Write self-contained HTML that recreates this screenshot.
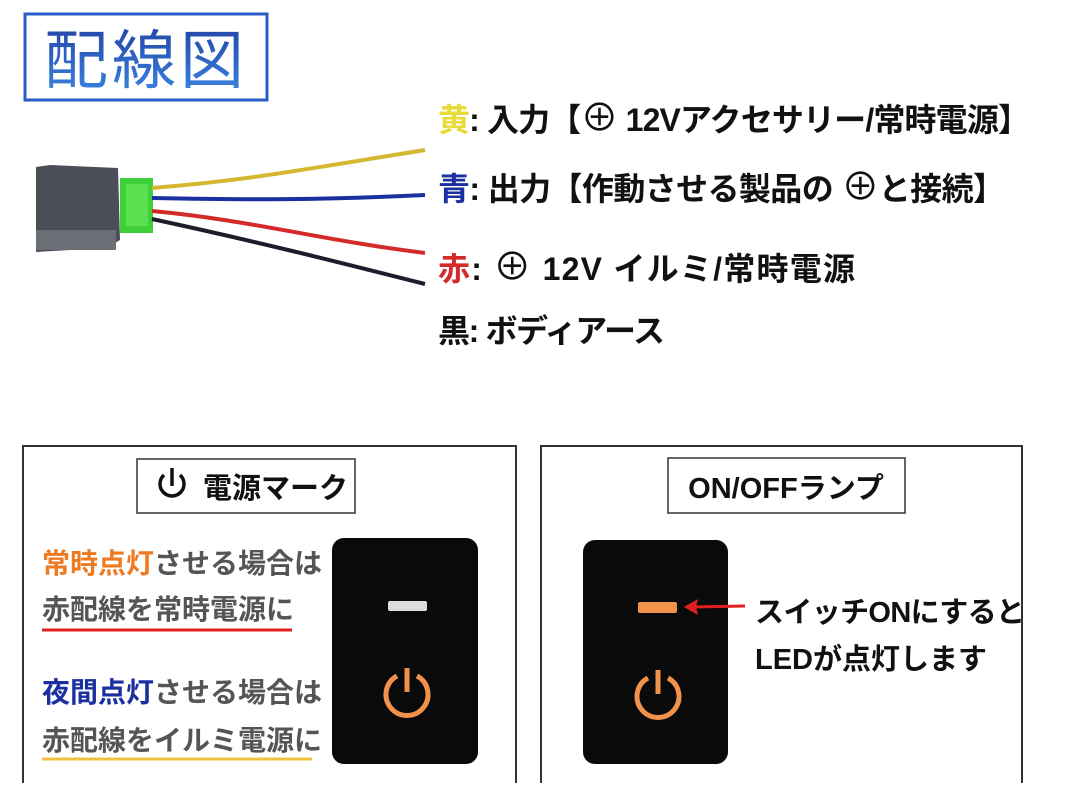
<!DOCTYPE html>
<html><head><meta charset="utf-8"><style>
body{margin:0;background:#fff;}
svg text{font-family:"Liberation Sans","Noto Sans CJK JP",sans-serif;font-weight:bold;}
</style></head><body>
<svg width="1080" height="783" viewBox="0 0 1080 783" xmlns="http://www.w3.org/2000/svg">
<defs>
<linearGradient id="tg" x1="0" y1="0" x2="0" y2="1"><stop offset="0" stop-color="#2446a8"/><stop offset="1" stop-color="#3a86e0"/></linearGradient>
</defs>
<rect x="25" y="14" width="242" height="86" fill="#fff" stroke="#2a5cc8" stroke-width="3"/>
<text x="146" y="83" font-size="64" fill="url(#tg)" text-anchor="middle" style="font-weight:normal" letter-spacing="4">配線図</text>
<path d="M36 167 L50 165 L118 168 L120 240 L110 246 L70 250 L36 252 Z" fill="#4a4f57"/>
<rect x="36" y="230" width="80" height="20" fill="#6a6e75"/>
<rect x="120" y="178" width="33" height="55" fill="#3fcf3a"/>
<rect x="126" y="184" width="22" height="42" fill="#5be050"/>
<path d="M152 188 C250 180 300 170 425 150" stroke="#d6b830" stroke-width="4" fill="none"/>
<path d="M152 198 C250 200 320 200 425 195" stroke="#1a2fa0" stroke-width="4" fill="none"/>
<path d="M152 211 C250 220 320 240 425 253" stroke="#d42a2a" stroke-width="4" fill="none"/>
<path d="M152 219 C250 240 330 260 425 284" stroke="#1b1d2a" stroke-width="4" fill="none"/>
<g font-size="32" fill="#111">
<text x="438" y="131" textLength="592" lengthAdjust="spacing"><tspan fill="#e8dc3a">黄</tspan>: 入力【<tspan font-size="38" style="font-weight:normal">⊕</tspan> 12Vアクセサリー/常時電源】</text>
<text x="438" y="200" textLength="567" lengthAdjust="spacing"><tspan fill="#1a2fa0">青</tspan>: 出力【作動させる製品の <tspan font-size="38" style="font-weight:normal">⊕</tspan>と接続】</text>
<text x="438" y="280" textLength="417" lengthAdjust="spacing"><tspan fill="#d42a2a">赤</tspan>: <tspan font-size="38" style="font-weight:normal">⊕</tspan> 12V イルミ/常時電源</text>
<text x="438" y="342" textLength="227" lengthAdjust="spacing">黒: ボディアース</text>
</g>
<rect x="23" y="446" width="493" height="340" fill="#fff" stroke="#333" stroke-width="2"/>
<rect x="137" y="459" width="218" height="54" fill="#fff" stroke="#333" stroke-width="1.5"/>
<g stroke="#111" stroke-width="3.5" fill="none"><path d="M164 475 A12 12 0 1 0 180 475"/><line x1="172" y1="468" x2="172" y2="486"/></g>
<text x="203" y="498" font-size="29" fill="#111">電源マーク</text>
<g font-size="28" fill="#555">
<text x="42" y="573"><tspan fill="#ee7a22">常時点灯</tspan>させる場合は</text>
<text x="42" y="619">赤配線を常時電源に</text>
<text x="42" y="702"><tspan fill="#1a2fa0">夜間点灯</tspan>させる場合は</text>
<text x="42" y="750">赤配線をイルミ電源に</text>
</g>
<line x1="42" y1="630" x2="292" y2="630" stroke="#e02020" stroke-width="3"/>
<line x1="42" y1="759" x2="312" y2="759" stroke="#f0c040" stroke-width="3"/>
<rect x="332" y="538" width="146" height="226" rx="12" fill="#0a0a0a"/>
<rect x="388" y="601" width="39" height="10" rx="2" fill="#ddd"/>
<g stroke="#f0924a" stroke-width="5" fill="none"><path d="M397 676 A21 21 0 1 0 417 676"/><line x1="407" y1="668" x2="407" y2="692"/></g>
<rect x="541" y="446" width="481" height="340" fill="#fff" stroke="#333" stroke-width="2"/>
<rect x="668" y="458" width="237" height="55" fill="#fff" stroke="#333" stroke-width="1.5"/>
<text x="786" y="498" font-size="29" fill="#111" text-anchor="middle">ON/OFFランプ</text>
<rect x="583" y="540" width="145" height="224" rx="12" fill="#0a0a0a"/>
<rect x="638" y="602" width="39" height="11" rx="2" fill="#f0924a"/>
<g stroke="#f0924a" stroke-width="5" fill="none"><path d="M648 678 A21 21 0 1 0 668 678"/><line x1="658" y1="670" x2="658" y2="694"/></g>
<line x1="745" y1="606" x2="692" y2="607" stroke="#e02020" stroke-width="3"/>
<path d="M684 607 L698 599 L696 607 L698 615 Z" fill="#e02020"/>
<g font-size="29" fill="#111">
<text x="755" y="622" textLength="270" lengthAdjust="spacing">スイッチONにすると</text>
<text x="755" y="669">LEDが点灯します</text>
</g>
</svg>
</body></html>
